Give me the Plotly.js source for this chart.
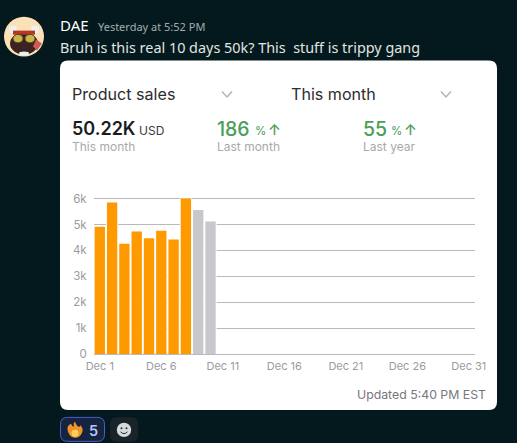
<!DOCTYPE html>
<html><head><meta charset="utf-8">
<script src="https://cdn.plot.ly/plotly-3.0.1.min.js"></script>
<style>html,body{margin:0;padding:0;background:#04191d;overflow:hidden}</style>
</head><body><div id="chart" style="width:517px;height:443px"></div>
<script>
const days = [1,2,3,4,5,6,7,8,9,10];
const sales = [4910,5850,4260,4730,4470,4760,4420,6000,5560,5120];
const barColors = ['#FF9900','#FF9900','#FF9900','#FF9900','#FF9900','#FF9900','#FF9900','#FF9900','#C7C7CC','#C7C7CC'];
const xTickVals = [1,6,11,16,21,26,31];
const xTickText = ['Dec 1','Dec 6','Dec 11','Dec 16','Dec 21','Dec 26','Dec 31'];
const yTickVals = [0,1000,2000,3000,4000,5000,6000];
const yTickText = ['0','1k','2k','3k','4k','5k','6k'];

const yMax=6100;
const L=94,R=475,B=354,T=B-155.7*yMax/6000,W=517,H=443;
const px=x=>(x-L)/(R-L), py=y=>(B-y)/(B-T);
const P=(x,y)=>px(x)+' '+py(y);
function rr(x0,y0,x1,y1,r){return `M ${P(x0+r,y0)} L ${P(x1-r,y0)} Q ${P(x1,y0)} ${P(x1,y0+r)} L ${P(x1,y1-r)} Q ${P(x1,y1)} ${P(x1-r,y1)} L ${P(x0+r,y1)} Q ${P(x0,y1)} ${P(x0,y1-r)} L ${P(x0,y0+r)} Q ${P(x0,y0)} ${P(x0+r,y0)} Z`;}
function deco(path,fill,line,lw){return {type:'path',xref:'paper',yref:'paper',layer:'below',path,fillcolor:fill||'rgba(0,0,0,0)',line:{color:line||'rgba(0,0,0,0)',width:lw||0}};}
function ell(cx,cy,rx,ry,fill,line,lw){return {type:'circle',xref:'paper',yref:'paper',layer:'below',x0:px(cx-rx),x1:px(cx+rx),y0:py(cy+ry),y1:py(cy-ry),fillcolor:fill,line:{color:line||'rgba(0,0,0,0)',width:lw||0}};}
function poly(pts,fill,line,lw){return deco('M '+pts.map(p=>P(p[0],p[1])).join(' L ')+(fill?' Z':''),fill,line,lw);}

const shapes=[
 deco(rr(60,60,497,410,8),'#ffffff'),
 // chevrons
 poly([[222,91],[227,96.5],[232,91]],null,'#b4b4b8',1.5),
 poly([[441,91],[446,96.5],[451,91]],null,'#b4b4b8',1.5),
 // avatar
 ell(24,36,20,20,'#fbe2b6'),
 ell(13,29,4,4,'#f0f0f0'),ell(35,29,4,4,'#f0f0f0'),
 ell(24,43,14,11,'#3a2320'),
 poly([[13,30],[35,30],[35,34],[13,34]],'#b8352c'),
 ell(18,38,5,4.2,'#c9b548','#5b4a22',1),ell(30,38,5,4.2,'#c9b548','#5b4a22',1),
 poly([[36,39],[42,43],[37,50],[33,46]],'#d25a55'),
 ell(24,53,5,2,'#e8eef2'),
 // reactions
 deco(rr(60.5,417.5,104.5,441.5,7),'#16233f','#4c5fcb',1),
 deco(rr(110,417,138,442,7),'#1a2329'),
 deco(`M ${P(68,432)} Q ${P(66,426)} ${P(71,424)} Q ${P(72,427)} ${P(74,427)} Q ${P(73,423)} ${P(75,422)} Q ${P(77,427)} ${P(79,427)} Q ${P(81,427)} ${P(80,425)} Q ${P(84,429)} ${P(82,433)} Q ${P(80,438)} ${P(75,438)} Q ${P(70,438)} ${P(68,432)} Z`,'#f0932b'),
 ell(75,433.5,3.5,3.5,'#fcd25a'),
 ell(124,430,7.2,7.2,'#d7dadd'),
 ell(121.5,428.5,1,1,'#2a3036'),ell(126.5,428.5,1,1,'#2a3036'),
 deco(`M ${P(120.5,432)} Q ${P(124,435.5)} ${P(127.5,432)}`,null,'#2a3036',1)
];

function note(text,x,y,size,color,weight,anchor,family){
 const a=anchor||'left';
 return {text,x:px(a==='left'?x-1:x+1.5),y:py(y+1),xref:'paper',yref:'paper',showarrow:false,xanchor:a,yanchor:'middle',borderpad:0,align:'left',font:{family:family||'Inter, sans-serif',size,color,weight:weight||400}};
}
const NS='"Noto Sans", sans-serif';
const annotations=[
 note('DAE',60,23,15,'#ffffff',400,'left',NS),
 note('Yesterday at 5:52 PM',98,24.5,11,'#a3adb0',400,'left',NS),
 note('Bruh is this real 10 days 50k? This \u00a0stuff is trippy gang',60,45.5,14.4,'#e0e6e4',400,'left',NS),
 note('Product sales',71.5,93,16.1,'#2c2c2e'),
 note('This month',290.5,93,16.1,'#2c2c2e'),
 note('50.22K',72,127.5,18,'#1c1c1e',600),
 note('USD',139,129,12,'#3a3a3c'),
 note('This month',72,145,12,'#a9a9ad'),
 note('186',217,127.5,19.5,'#4a9e57',500),
 note('%',255,130,11.5,'#4a9e57'),
 note('↑',268,128,15,'#4a9e57',500),
 note('Last month',217,145,12,'#a9a9ad'),
 note('55',363,127.5,19.5,'#4a9e57',500),
 note('%',391,130,11.5,'#4a9e57'),
 note('↑',404,128,15,'#4a9e57',500),
 note('Last year',363,145,12,'#a9a9ad'),
 note('Updated 5:40 PM EST',485,393.5,12.3,'#77777c',400,'right'),
 note('5',89,429.5,14.5,'#b6c6fb',600)
];

const gapTrace={type:'bar',x:days,y:sales,width:1,marker:{color:'#ffffff',line:{width:0}},hoverinfo:'skip'};
const salesTrace={type:'bar',x:days,y:sales,width:0.84,marker:{color:barColors,line:{width:0}},hoverinfo:'skip'};
const layout={
 width:W,height:H,margin:{l:L,r:W-R,t:T,b:H-B,pad:0},autosize:false,barmode:'overlay',
 paper_bgcolor:'#04191d',plot_bgcolor:'rgba(0,0,0,0)',showlegend:false,
 xaxis:{range:[0.53,31.5],tickmode:'array',tickvals:xTickVals,ticktext:xTickText,showgrid:false,zeroline:false,showline:false,ticks:'outside',ticklen:2,tickcolor:'rgba(0,0,0,0)',tickfont:{family:'Inter, sans-serif',size:11,color:'#9b9ba0'},tickangle:0},
 yaxis:{range:[0,yMax],tickmode:'array',tickvals:yTickVals,ticktext:yTickText,showgrid:true,gridcolor:'#b9b9bb',gridwidth:1,zeroline:true,zerolinecolor:'#b9b9bb',zerolinewidth:1,showline:false,ticks:'outside',ticklen:4,tickcolor:'rgba(0,0,0,0)',tickfont:{family:'Inter, sans-serif',size:11.5,color:'#9b9ba0'}},
 shapes,annotations
};
Plotly.newPlot('chart',[gapTrace,salesTrace],layout,{displayModeBar:false,staticPlot:true});
</script></body></html>
